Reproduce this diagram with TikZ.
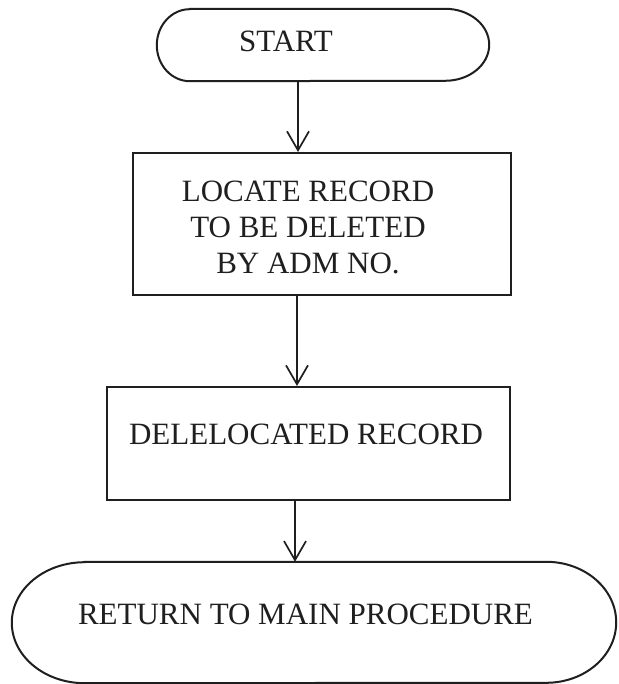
\documentclass[tikz,border=0pt]{standalone}
\usepackage{fontspec}
\setmainfont{Liberation Serif}
\usetikzlibrary{arrows.meta,calc}
\definecolor{ink}{rgb}{0.12,0.12,0.12}
\begin{document}
\begin{tikzpicture}[x=1pt,y=1pt,
  ln/.style={draw=ink,line width=2pt},
  blk/.style={ln,rectangle,inner sep=0pt},
  term/.style={rectangle,inner sep=0pt},
  lbl/.style={text=ink,inner sep=0pt,font=\fontsize{31}{36}\selectfont,align=center},
  arr/.style={ln,-{Straight Barb[length=19pt,width=22pt,line width=1.7pt]}}]
\useasboundingbox (0,0) rectangle (618,684);
\fill[white] (0,0) rectangle (618,684);
% START terminator
\node[term,minimum width=332pt,minimum height=72pt] (start) at (323,639) {};
\draw[ln] ([xshift=33pt]start.north west) -- ([xshift=-44pt]start.north east)
  arc[start angle=90,end angle=-90,x radius=44pt,y radius=36pt]
  -- ([xshift=33pt]start.south west)
  arc[start angle=270,end angle=90,x radius=33pt,y radius=36pt] -- cycle;
\node[lbl,anchor=base] (tstart) at (286,632) {START};
% Box 1
\node[blk,minimum width=378pt,minimum height=142pt] (locate) at (322,460) {};
\node[lbl] (tlocate) at (308,457) {LOCATE RECORD\\TO BE DELETED\\BY ADM NO.};
% Box 2
\node[blk,minimum width=403pt,minimum height=113pt] (delete) at (308.5,240.5) {};
\node[lbl,anchor=base] (tdelete) at (306,239) {DELELOCATED RECORD};
% RETURN terminator
\node[term,minimum width=604pt,minimum height=121pt] (ret) at (314,61.5) {};
\draw[ln] ([xshift=73pt]ret.north west) -- ([xshift=-70pt]ret.north east)
  arc[start angle=90,end angle=-90,x radius=70pt,y radius=60.5pt]
  -- ([xshift=73pt]ret.south west)
  arc[start angle=270,end angle=90,x radius=73pt,y radius=60.5pt] -- cycle;
\node[lbl,anchor=base] (tret) at (305.5,59) {RETURN TO MAIN PROCEDURE};
% connectors
\coordinate (ax1) at (298,0);
\coordinate (ax2) at (297,0);
\coordinate (ax3) at (295,0);
\draw[arr] (start.south -| ax1) -- (locate.north -| ax1);
\draw[arr] (locate.south -| ax2) -- (delete.north -| ax2);
\draw[arr] (delete.south -| ax3) -- (ret.north -| ax3);
\end{tikzpicture}
\end{document}
